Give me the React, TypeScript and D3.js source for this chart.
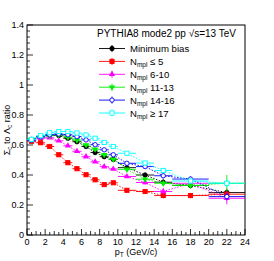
import { useEffect, useRef } from 'react';
import * as d3 from 'd3';

// bin edges in pT (GeV/c)
const binLo = [0, 1, 2, 3, 4, 5, 6, 7, 8, 9, 10, 12, 14, 16, 20];
const binHi = [1, 2, 3, 4, 5, 6, 7, 8, 9, 10, 12, 14, 16, 20, 24];

const minBias = [0.635, 0.655, 0.666, 0.663, 0.645, 0.622, 0.59, 0.55, 0.522, 0.504, 0.449, 0.4, 0.352, 0.33, 0.283];
const nmpl5 = [0.625, 0.615, 0.59, 0.535, 0.482, 0.442, 0.402, 0.368, 0.336, 0.348, 0.298, 0.29, 0.263, 0.263, 0.272];
const nmpl6_10 = [0.635, 0.645, 0.648, 0.628, 0.595, 0.558, 0.522, 0.488, 0.456, 0.44, 0.39, 0.35, 0.29, 0.345, 0.245];
const nmpl11_13 = [0.638, 0.655, 0.662, 0.668, 0.652, 0.633, 0.6, 0.572, 0.535, 0.505, 0.438, 0.372, 0.345, 0.33, 0.345];
const nmpl14_16 = [0.632, 0.655, 0.668, 0.673, 0.668, 0.656, 0.634, 0.602, 0.568, 0.535, 0.478, 0.456, 0.395, 0.373, 0.256];
const nmpl17 = [0.638, 0.662, 0.682, 0.69, 0.69, 0.68, 0.667, 0.645, 0.617, 0.59, 0.545, 0.48, 0.43, 0.36, 0.345];

const errCommon = [0.006, 0.006, 0.006, 0.006, 0.007, 0.007, 0.008, 0.008, 0.009, 0.01, 0.01, 0.014, 0.018, 0.018, 0.025];
const errGreen = [0.006, 0.006, 0.006, 0.006, 0.007, 0.007, 0.008, 0.008, 0.009, 0.01, 0.01, 0.014, 0.02, 0.02, 0.055];
const errMagenta = [0.006, 0.006, 0.006, 0.006, 0.007, 0.007, 0.008, 0.008, 0.009, 0.01, 0.01, 0.014, 0.02, 0.02, 0.04];

const series = [
  { label: 'Minimum bias', sub: '', values: minBias, err: errCommon, color: '#000000', marker: 'circle' },
  { label: '\u2264 5', sub: 'mpl', values: nmpl5, err: errCommon, color: '#ff0000', marker: 'square' },
  { label: '6-10', sub: 'mpl', values: nmpl6_10, err: errMagenta, color: '#ff00ff', marker: 'triup' },
  { label: '11-13', sub: 'mpl', values: nmpl11_13, err: errGreen, color: '#00ee00', marker: 'tridown' },
  { label: '14-16', sub: 'mpl', values: nmpl14_16, err: errCommon, color: '#0000ff', marker: 'opencircle' },
  { label: '\u2265 17', sub: 'mpl', values: nmpl17, err: errCommon, color: '#00ffff', marker: 'opensquare' },
];

const xTicks = [0, 2, 4, 6, 8, 10, 12, 14, 16, 18, 20, 22, 24];
const yTicks = [0, 0.2, 0.4, 0.6, 0.8, 1, 1.2, 1.4];

const W = 274;
const H = 261;
const margin = { top: 25, right: 29, bottom: 26, left: 27 };

function drawMarker(g, type, x, y, color) {
  const s = 4.2;
  if (type === 'circle' || type === 'opencircle') {
    g.append('circle')
      .attr('cx', x).attr('cy', y).attr('r', 2.2)
      .attr('fill', type === 'circle' ? color : 'white')
      .attr('stroke', color).attr('stroke-width', 0.9);
  } else if (type === 'square' || type === 'opensquare') {
    g.append('rect')
      .attr('x', x - s / 2).attr('y', y - s / 2).attr('width', s).attr('height', s)
      .attr('fill', type === 'square' ? color : 'white')
      .attr('stroke', color).attr('stroke-width', 0.9);
  } else {
    const sym = d3.symbol().type(d3.symbolTriangle).size(17);
    g.append('path')
      .attr('d', sym())
      .attr('transform', `translate(${x},${y}) rotate(${type === 'tridown' ? 180 : 0})`)
      .attr('fill', color);
  }
}

export default function App() {
  const ref = useRef(null);

  useEffect(() => {
    document.body.style.margin = '0';
    const svg = d3.select(ref.current);
    svg.selectAll('*').remove();

    const x = d3.scaleLinear().domain([0, 24]).range([margin.left, W - margin.right]);
    const y = d3.scaleLinear().domain([0, 1.4]).range([H - margin.bottom, margin.top]);

    svg.append('rect').attr('width', W).attr('height', H).attr('fill', 'white');

    // frame
    svg.append('rect')
      .attr('x', x(0)).attr('y', y(1.4))
      .attr('width', x(24) - x(0)).attr('height', y(0) - y(1.4))
      .attr('fill', 'none').attr('stroke', '#000').attr('stroke-width', 1);

    const font = '"Liberation Sans", Arial, sans-serif';

    // ticks
    const ax = svg.append('g').attr('stroke', '#000').attr('stroke-width', 0.8);
    d3.range(0, 24.01, 0.5).forEach(v => {
      const major = Math.abs(v % 2) < 1e-6;
      const mid = !major && Math.abs(v % 1) < 1e-6;
      const len = major ? 6 : mid ? 4 : 3;
      ax.append('line')
        .attr('x1', x(v)).attr('x2', x(v))
        .attr('y1', y(0)).attr('y2', y(0) - len);
    });
    d3.range(0, 1.4001, 0.04).forEach(v => {
      const major = Math.abs(Math.round(v / 0.2) * 0.2 - v) < 1e-6;
      const len = major ? 6 : 3;
      ax.append('line')
        .attr('x1', x(0)).attr('x2', x(0) + len)
        .attr('y1', y(v)).attr('y2', y(v));
    });

    svg.append('g').selectAll('text').data(xTicks).join('text')
      .attr('x', d => x(d)).attr('y', y(0) + 10)
      .attr('text-anchor', 'middle')
      .attr('font-family', font).attr('font-size', 9)
      .text(d => d);

    svg.append('g').selectAll('text').data(yTicks).join('text')
      .attr('x', x(0) - 3).attr('y', d => y(d) + 3)
      .attr('text-anchor', 'end')
      .attr('font-family', font).attr('font-size', 9)
      .text(d => d3.format('~g')(d));

    // axis titles
    const xt = svg.append('text')
      .attr('x', (x(0) + x(24)) / 2).attr('y', y(0) + 20)
      .attr('text-anchor', 'middle')
      .attr('font-family', font).attr('font-size', 9);
    xt.append('tspan').text('p');
    xt.append('tspan').attr('font-size', 6.5).attr('dy', 2).text('T');
    xt.append('tspan').attr('dy', -2).text(' (GeV/c)');

    const yt = svg.append('text')
      .attr('transform', `translate(10,${(y(0) + y(1.4)) / 2}) rotate(-90)`)
      .attr('text-anchor', 'middle')
      .attr('font-family', font).attr('font-size', 9);
    yt.append('tspan').text('\u03a3');
    yt.append('tspan').attr('font-size', 6.5).attr('dy', 2).text('c');
    yt.append('tspan').attr('dy', -2).text(' to \u039b');
    yt.append('tspan').attr('font-size', 6.5).attr('dy', 2).text('c');
    yt.append('tspan').attr('dy', -2).text(' ratio');

    const mid = binLo.map((lo, i) => (lo + binHi[i]) / 2);

    // series
    series.forEach(s => {
      const g = svg.append('g');
      const line = d3.line().x((d, i) => x(mid[i])).y(d => y(d));
      g.append('path')
        .attr('d', line(s.values))
        .attr('fill', 'none')
        .attr('stroke', s.color)
        .attr('stroke-width', 0.9)
        .attr('stroke-dasharray', '1.5,1.5');
      s.values.forEach((v, i) => {
        g.append('line')
          .attr('x1', x(binLo[i])).attr('x2', x(binHi[i]))
          .attr('y1', y(v)).attr('y2', y(v))
          .attr('stroke', s.color).attr('stroke-width', 0.9);
        g.append('line')
          .attr('x1', x(mid[i])).attr('x2', x(mid[i]))
          .attr('y1', y(v - s.err[i])).attr('y2', y(v + s.err[i]))
          .attr('stroke', s.color).attr('stroke-width', 0.9);
        drawMarker(g, s.marker, x(mid[i]), y(v), s.color);
      });
    });

    // legend
    svg.append('text')
      .attr('x', 97).attr('y', 37)
      .attr('font-family', font).attr('font-size', 10)
      .text('PYTHIA8 mode2 pp \u221as=13 TeV');

    series.forEach((s, i) => {
      const ly = 48.5 + i * 12.9;
      const g = svg.append('g');
      g.append('line')
        .attr('x1', 99).attr('x2', 125).attr('y1', ly).attr('y2', ly)
        .attr('stroke', s.color).attr('stroke-width', 0.9);
      g.append('line')
        .attr('x1', 112).attr('x2', 112).attr('y1', ly - 3.5).attr('y2', ly + 3.5)
        .attr('stroke', s.color).attr('stroke-width', 0.9);
      drawMarker(g, s.marker, 112, ly, s.color);
      const t = g.append('text')
        .attr('x', 130).attr('y', ly + 3.5)
        .attr('font-family', font).attr('font-size', 9.6);
      if (s.sub) {
        t.append('tspan').text('N');
        t.append('tspan').attr('font-size', 6.5).attr('dy', 2.5).text(s.sub);
        t.append('tspan').attr('dy', -2.5).text(' ' + s.label);
      } else {
        t.text(s.label);
      }
    });
  }, []);

  return <svg ref={ref} width={W} height={H} style={{ display: 'block' }} />;
}
